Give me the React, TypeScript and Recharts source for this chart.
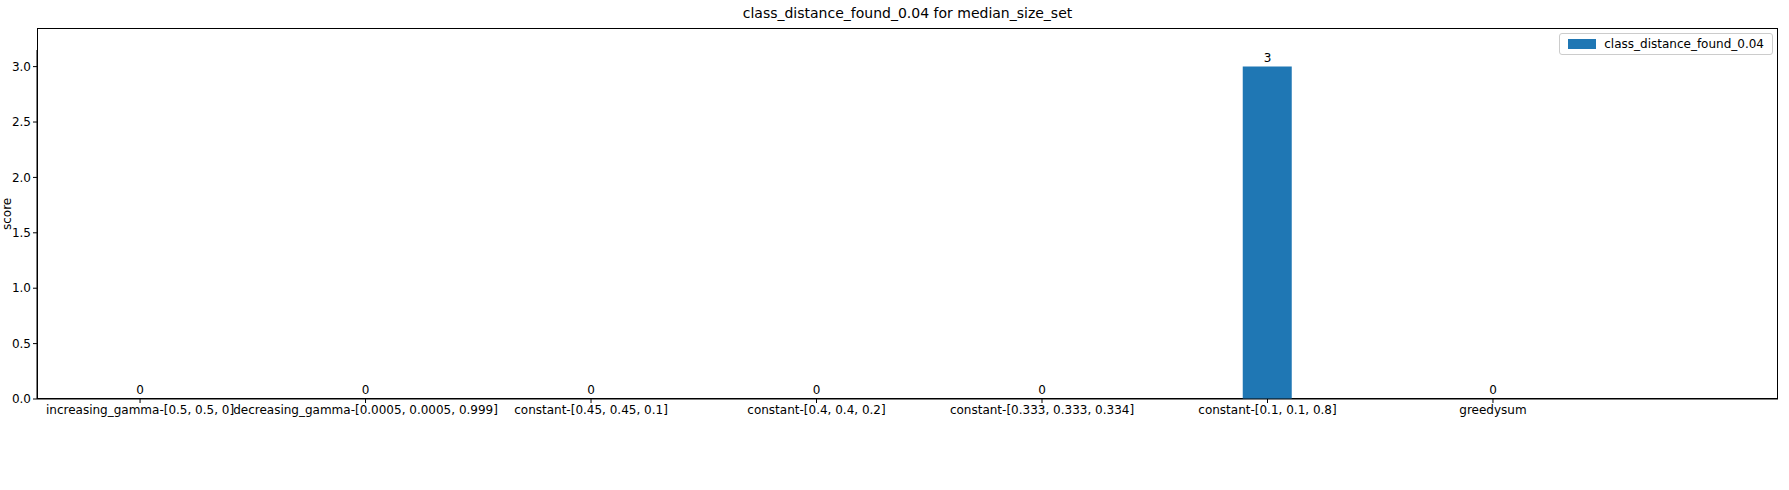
import React from 'react'
import { ComposedChart, Bar, Line, XAxis, YAxis, Legend, LabelList } from 'recharts'

const categories = [
  'increasing_gamma-[0.5, 0.5, 0]',
  'decreasing_gamma-[0.0005, 0.0005, 0.999]',
  'constant-[0.45, 0.45, 0.1]',
  'constant-[0.4, 0.4, 0.2]',
  'constant-[0.333, 0.333, 0.334]',
  'constant-[0.1, 0.1, 0.8]',
  'greedysum',
]
const scores = [0, 0, 0, 0, 0, 3, 0]
const yTicks = [0, 0.5, 1, 1.5, 2, 2.5, 3]

const data = categories.map((c, i) => ({ x: i, name: c, class_distance_found_0_04: scores[i] }))

const font = 'DejaVu Sans, sans-serif'

export default function App() {
  return (
    <div style={{ position: 'absolute', left: 0, top: 0, width: 1789, height: 490, background: 'white', fontFamily: font }}>
      <div style={{ position: 'absolute', left: 37, width: 1741, top: 5, textAlign: 'center', fontSize: 14, color: '#000' }}>
        class_distance_found_0.04 for median_size_set
      </div>
      <div style={{ position: 'absolute', left: 0, top: 230, transform: 'rotate(-90deg)', transformOrigin: 'left top', fontSize: 12 }}>
        score
      </div>
      <div style={{ position: 'absolute', left: 37, top: 28, width: 1741, height: 371, border: '1px solid #000', boxSizing: 'border-box', pointerEvents: 'none' }} />
      <ComposedChart width={1789} height={490} data={data} margin={{ top: 28, right: 11, bottom: 61, left: 0 }}>
        <XAxis
          dataKey="x"
          type="number"
          domain={[-0.457, 7.264]}
          ticks={[0, 1, 2, 3, 4, 5, 6]}
          tickFormatter={(v: number) => categories[v]}
          interval={0}
          height={30}
          stroke="#000"
          tickSize={4}
          tick={{ fill: '#000', fontSize: 12, fontFamily: font }}
          allowDataOverflow
        />
        <YAxis
          domain={[0, 3.15]}
          ticks={yTicks}
          tickFormatter={(v: number) => v.toFixed(1)}
          width={37}
          stroke="#000"
          tickSize={4}
          tick={{ fill: '#000', fontSize: 12, fontFamily: font }}
          allowDataOverflow
        />
        <Legend
          verticalAlign="top"
          align="right"
          content={() => (
            <div style={{ border: '1px solid #ccc', borderRadius: 3, padding: '3px 8px', display: 'flex', alignItems: 'center', fontSize: 12, background: 'white' }}>
              <span style={{ display: 'inline-block', width: 28, height: 10, background: '#1f77b4', marginRight: 8 }} />
              class_distance_found_0.04
            </div>
          )}
          wrapperStyle={{ position: 'absolute', top: 33, right: 16, left: 'auto', width: 'auto' }}
        />
        <Bar dataKey="class_distance_found_0_04" fill="#1f77b4" barSize={49} isAnimationActive={false} />
        <Line dataKey="class_distance_found_0_04" stroke="none" dot={false} activeDot={false} legendType="none" isAnimationActive={false}>
          <LabelList dataKey="class_distance_found_0_04" position="top" offset={5} fill="#000" fontSize={12} fontFamily={font} />
        </Line>
      </ComposedChart>
    </div>
  )
}
